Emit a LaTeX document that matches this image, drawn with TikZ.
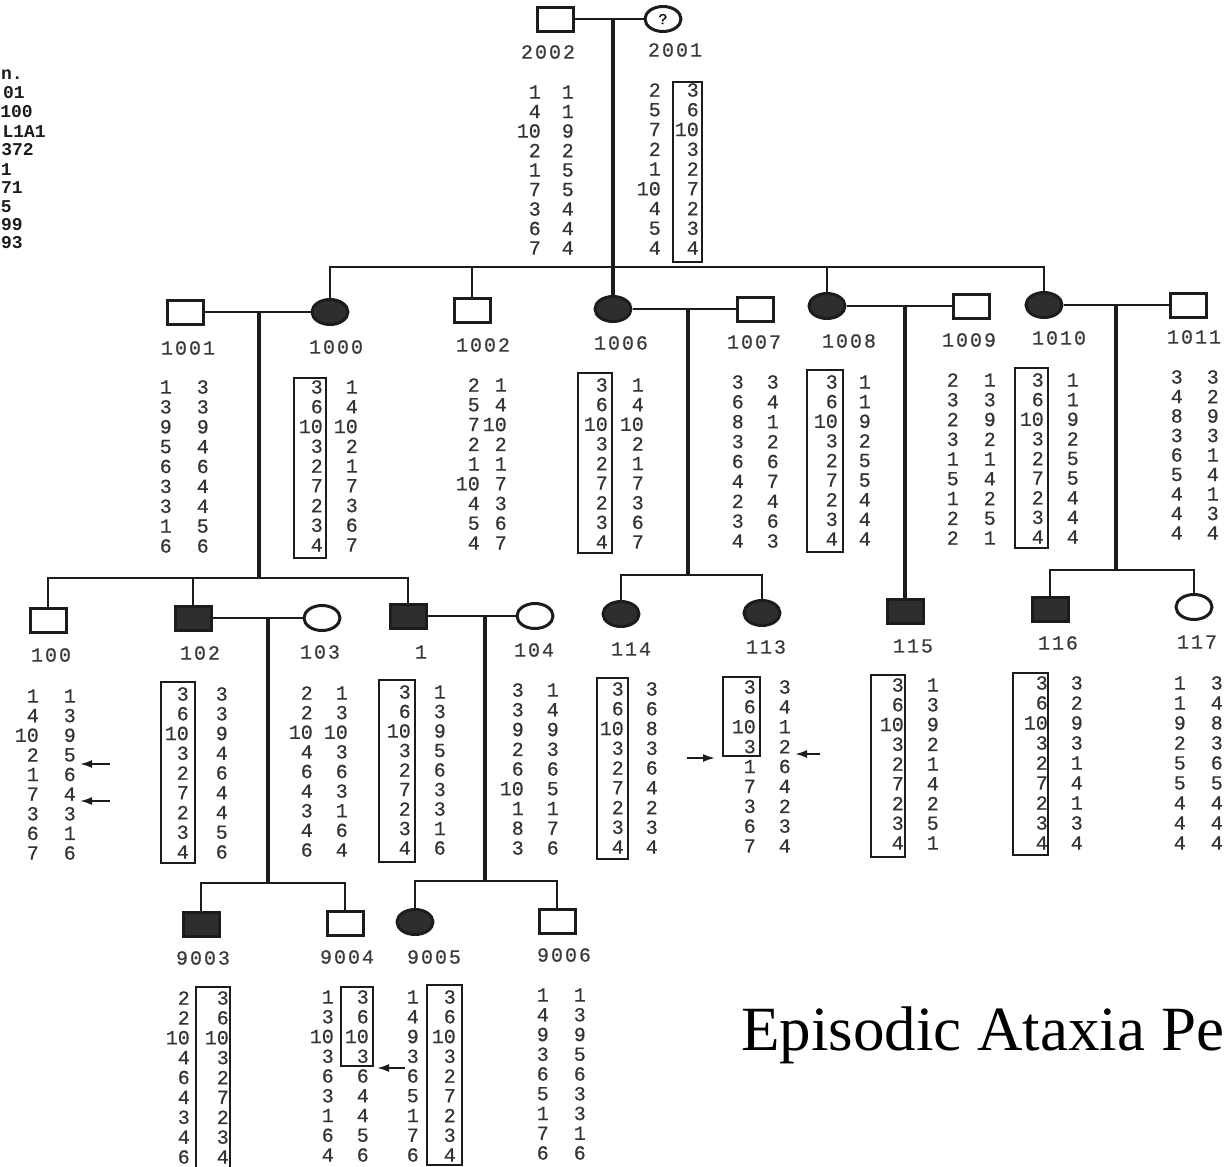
\documentclass[tikz,border=0pt]{standalone}
\usepackage{fontspec}
\usepackage{tikz}
\usetikzlibrary{shapes.geometric,arrows.meta}
\newfontfamily\allelefont[FakeBold=0.6]{Liberation Mono}
\newfontfamily\markerfont{Liberation Mono}
\newfontfamily\idfont[LetterSpace=10,FakeBold=0.6]{Liberation Mono}
\newfontfamily\titlefont{Liberation Serif}
\definecolor{Ink}{HTML}{1C1C1C}
\definecolor{Shade}{HTML}{2E2E2E}
\definecolor{NumGray}{HTML}{333333}
\definecolor{IdGray}{HTML}{3A3A3A}

% two allele columns of one person: name, right edges, first and last row
\newcommand{\haplo}[6]{%
  \foreach \a/\b [count=\i] in {#6}{%
    \node[allele] (h#1l\i) at (#2,{#4+(\i-1)*(#5-#4)/8}) {\a};
    \node[allele] (h#1r\i) at (#3,{#4+(\i-1)*(#5-#4)/8}) {\b};
  }}

\begin{document}
\begin{tikzpicture}[x=1pt, y=-1pt]
  \tikzstyle{male} = [rectangle, draw=Ink, line width=3pt, minimum width=36pt, minimum height=24pt, inner sep=0pt]
  \tikzstyle{female} = [ellipse, draw=Ink, line width=3pt, minimum width=36pt, minimum height=25pt, inner sep=0pt]
  \tikzstyle{affected} = [fill=Shade]
  \tikzstyle{allele} = [anchor=east, inner sep=0pt, text=NumGray, font=\allelefont\fontsize{20}{20}\selectfont]
  \tikzstyle{idlabel} = [inner sep=0pt, text=IdGray, font=\idfont\fontsize{20}{20}\selectfont]
  \tikzstyle{marker} = [anchor=east, inner sep=0pt, text=Ink, font=\markerfont\bfseries\fontsize{18}{18}\selectfont]
  \tikzstyle{hbox} = [draw=Ink, line width=2pt]
  \tikzstyle{marriage} = [draw=Ink, line width=2.5pt]
  \tikzstyle{descent} = [draw=Ink, line width=3.5pt]
  \tikzstyle{sibship} = [draw=Ink, line width=2.5pt]
  \tikzstyle{markarrow} = [draw=Ink, line width=2pt, -{Latex[length=12pt,width=8pt]}]

  \useasboundingbox (0,0) rectangle (1227,1167);

  % marker names, cut at the left edge
  \node[marker] (tl1) at (23,75) {n.};
  \node[marker] (tl2) at (25,93) {01};
  \node[marker] (tl3) at (33,112) {100};
  \node[marker] (tl4) at (46,132) {L1A1};
  \node[marker] (tl5) at (34,150) {372};
  \node[marker] (tl6) at (12,170) {1};
  \node[marker] (tl7) at (23,188) {71};
  \node[marker] (tl8) at (12,207) {5};
  \node[marker] (tl9) at (23,225) {99};
  \node[marker] (tl10) at (23,243) {93};

  % generation I
  \node[male] (i2002) at (555,19) {};
  \node[female, font=\allelefont\fontsize{15}{15}\selectfont] (i2001) at (663,19) {?};

  % generation II
  \node[male] (i1001) at (185,312) {};
  \node[female, affected] (i1000) at (330,312) {};
  \node[male] (i1002) at (472,310) {};
  \node[female, affected] (i1006) at (613,309) {};
  \node[male] (i1007) at (755,309) {};
  \node[female, affected] (i1008) at (827,306) {};
  \node[male] (i1009) at (971,306) {};
  \node[female, affected] (i1010) at (1044,305) {};
  \node[male] (i1011) at (1188,305) {};

  % generation III
  \node[male] (i100) at (48,620) {};
  \node[male, affected] (i102) at (193,618) {};
  \node[female] (i103) at (322,618) {};
  \node[male, affected] (i1) at (408,616) {};
  \node[female] (i104) at (535,616) {};
  \node[female, affected] (i114) at (621,614) {};
  \node[female, affected] (i113) at (762,613) {};
  \node[male, affected] (i115) at (905,611) {};
  \node[male, affected] (i116) at (1050,609) {};
  \node[female] (i117) at (1194,607) {};

  % generation IV
  \node[male, affected] (i9003) at (201,924) {};
  \node[male] (i9004) at (345,923) {};
  \node[female, affected] (i9005) at (415,922) {};
  \node[male] (i9006) at (557,921) {};

  % marriages and descent
  \coordinate (m2002) at (613,19);
  \coordinate (s2002) at (613,267);
  \draw[marriage] (i2002.east) -- (i2001.west);
  \draw[descent] (m2002) -- (i1006.north);
  \draw[sibship] (i1000.north) |- (s2002) -| (i1010.north);
  \draw[sibship] (i1002.north) -- (i1002.north |- s2002);
  \draw[sibship] (i1008.north) -- (i1008.north |- s2002);

  \coordinate (m1001) at (259,312);
  \coordinate (s1001) at (259,578);
  \draw[marriage] (i1001.east) -- (i1000.west);
  \draw[descent] (m1001) -- (s1001);
  \draw[sibship] (i100.north) |- (s1001) -| (i1.north);
  \draw[sibship] (i102.north) -- (i102.north |- s1001);

  \coordinate (m1006) at (688,309);
  \coordinate (s1006) at (688,575);
  \draw[marriage] (i1006.east) -- (i1007.west);
  \draw[descent] (m1006) -- (s1006);
  \draw[sibship] (i114.north) |- (s1006) -| (i113.north);

  \coordinate (m1008) at (905,306);
  \draw[marriage] (i1008.east) -- (i1009.west);
  \draw[descent] (m1008) -- (i115.north);

  \coordinate (m1010) at (1116,305);
  \coordinate (s1010) at (1116,570);
  \draw[marriage] (i1010.east) -- (i1011.west);
  \draw[descent] (m1010) -- (s1010);
  \draw[sibship] (i116.north) |- (s1010) -| (i117.north);

  \coordinate (m102) at (268,618);
  \coordinate (s102) at (268,883);
  \draw[marriage] (i102.east) -- (i103.west);
  \draw[descent] (m102) -- (s102);
  \draw[sibship] (i9003.north) |- (s102) -| (i9004.north);

  \coordinate (m1) at (485,616);
  \coordinate (s1) at (485,881);
  \draw[marriage] (i1.east) -- (i104.west);
  \draw[descent] (m1) -- (s1);
  \draw[sibship] (i9005.north) |- (s1) -| (i9006.north);

  % ids
  \node[idlabel] (n2002) at (548,52) {2002};
  \node[idlabel] (n2001) at (675,50) {2001};
  \node[idlabel] (n1001) at (188,348) {1001};
  \node[idlabel] (n1000) at (336,347) {1000};
  \node[idlabel] (n1002) at (483,345) {1002};
  \node[idlabel] (n1006) at (621,343) {1006};
  \node[idlabel] (n1007) at (754,342) {1007};
  \node[idlabel] (n1008) at (849,341) {1008};
  \node[idlabel] (n1009) at (969,340) {1009};
  \node[idlabel] (n1010) at (1059,338) {1010};
  \node[idlabel] (n1011) at (1194,337) {1011};
  \node[idlabel] (n100) at (51,655) {100};
  \node[idlabel] (n102) at (200,653) {102};
  \node[idlabel] (n103) at (320,652) {103};
  \node[idlabel] (n1) at (421,652) {1};
  \node[idlabel] (n104) at (534,650) {104};
  \node[idlabel] (n114) at (631,649) {114};
  \node[idlabel] (n113) at (766,647) {113};
  \node[idlabel] (n115) at (913,646) {115};
  \node[idlabel] (n116) at (1058,643) {116};
  \node[idlabel] (n117) at (1197,642) {117};
  \node[idlabel] (n9003) at (203,958) {9003};
  \node[idlabel] (n9004) at (347,957) {9004};
  \node[idlabel] (n9005) at (434,957) {9005};
  \node[idlabel] (n9006) at (564,955) {9006};

  % haplotypes
  \haplo{2002}{541}{574}{92}{248}{1/1,4/1,10/9,2/2,1/5,7/5,3/4,6/4,7/4}
  \haplo{2001}{661}{699}{90}{248}{2/3,5/6,7/10,2/3,1/2,10/7,4/2,5/3,4/4}
  \haplo{1001}{172}{209}{387}{546}{1/3,3/3,9/9,5/4,6/6,3/4,3/4,1/5,6/6}
  \haplo{1000}{323}{358}{387}{545}{3/1,6/4,10/10,3/2,2/1,7/7,2/3,3/6,4/7}
  \haplo{1002}{480}{507}{385}{543}{2/1,5/4,7/10,2/2,1/1,10/7,4/3,5/6,4/7}
  \haplo{1006}{608}{644}{385}{542}{3/1,6/4,10/10,3/2,2/1,7/7,2/3,3/6,4/7}
  \haplo{1007}{744}{779}{382}{541}{3/3,6/4,8/1,3/2,6/6,4/7,2/4,3/6,4/3}
  \haplo{1008}{838}{871}{382}{539}{3/1,6/1,10/9,3/2,2/5,7/5,2/4,3/4,4/4}
  \haplo{1009}{959}{996}{380}{538}{2/1,3/3,2/9,3/2,1/1,5/4,1/2,2/5,2/1}
  \haplo{1010}{1044}{1079}{380}{537}{3/1,6/1,10/9,3/2,2/5,7/5,2/4,3/4,4/4}
  \haplo{1011}{1183}{1219}{377}{533}{3/3,4/2,8/9,3/3,6/1,5/4,4/1,4/3,4/4}
  \haplo{100}{39}{76}{696}{853}{1/1,4/3,10/9,2/5,1/6,7/4,3/3,6/1,7/6}
  \haplo{102}{189}{228}{694}{852}{3/3,6/3,10/9,3/4,2/6,7/4,2/4,3/5,4/6}
  \haplo{103}{313}{348}{693}{850}{2/1,2/3,10/10,4/3,6/6,4/3,3/1,4/6,6/4}
  \haplo{1}{411}{446}{692}{848}{3/1,6/3,10/9,3/5,2/6,7/3,2/3,3/1,4/6}
  \haplo{104}{524}{559}{690}{848}{3/1,3/4,9/9,2/3,6/6,10/5,1/1,8/7,3/6}
  \haplo{114}{624}{658}{689}{847}{3/3,6/6,10/8,3/3,2/6,7/4,2/2,3/3,4/4}
  \haplo{113}{756}{791}{687}{846}{3/3,6/4,10/1,3/2,1/6,7/4,3/2,6/3,7/4}
  \haplo{115}{904}{939}{685}{843}{3/1,6/3,10/9,3/2,2/1,7/4,2/2,3/5,4/1}
  \haplo{116}{1048}{1083}{683}{843}{3/3,6/2,10/9,3/3,2/1,7/4,2/1,3/3,4/4}
  \haplo{117}{1186}{1223}{683}{843}{1/3,1/4,9/8,2/3,5/6,5/5,4/4,4/4,4/4}
  \haplo{9003}{190}{229}{998}{1157}{2/3,2/6,10/10,4/3,6/2,4/7,3/2,4/3,6/4}
  \haplo{9004}{334}{369}{997}{1155}{1/3,3/6,10/10,3/3,6/6,3/4,1/4,6/5,4/6}
  \haplo{9005}{419}{456}{997}{1155}{1/3,4/6,9/10,3/3,6/2,5/7,1/2,7/3,6/4}
  \haplo{9006}{549}{586}{995}{1153}{1/1,4/3,9/9,3/5,6/6,5/3,1/3,7/1,6/6}

  % boxed haplotypes
  \draw[hbox] (673,82) rectangle (702,262);
  \draw[hbox] (294,378) rectangle (326,558);
  \draw[hbox] (578,373) rectangle (612,553);
  \draw[hbox] (807,370) rectangle (843,552);
  \draw[hbox] (1015,368) rectangle (1048,548);
  \draw[hbox] (161,682) rectangle (195,863);
  \draw[hbox] (379,680) rectangle (415,862);
  \draw[hbox] (597,678) rectangle (628,859);
  \draw[hbox] (723,677) rectangle (760,756);
  \draw[hbox] (871,675) rectangle (905,857);
  \draw[hbox] (1013,673) rectangle (1048,855);
  \draw[hbox] (196,987) rectangle (230,1172);
  \draw[hbox] (341,987) rectangle (373,1066);
  \draw[hbox] (427,985) rectangle (462,1165);

  % recombination arrows
  \coordinate (a100at) at (110,764);
  \coordinate (a100ah) at (80,764);
  \coordinate (a100bt) at (110,801);
  \coordinate (a100bh) at (80,801);
  \coordinate (a113at) at (687,758);
  \coordinate (a113ah) at (715,758);
  \coordinate (a113bt) at (820,754);
  \coordinate (a113bh) at (795,754);
  \coordinate (a9004t) at (405,1068);
  \coordinate (a9004h) at (377,1068);
  \draw[markarrow] (a100at) -- (a100ah);
  \draw[markarrow] (a100bt) -- (a100bh);
  \draw[markarrow] (a113at) -- (a113ah);
  \draw[markarrow] (a113bt) -- (a113bh);
  \draw[markarrow] (a9004t) -- (a9004h);

  % title, cut at the right edge
  \node[anchor=base west, inner sep=0pt, font=\titlefont\fontsize{63}{63}\selectfont] (title) at (741,1050) {Episodic Ataxia Pe};
\end{tikzpicture}
\end{document}
